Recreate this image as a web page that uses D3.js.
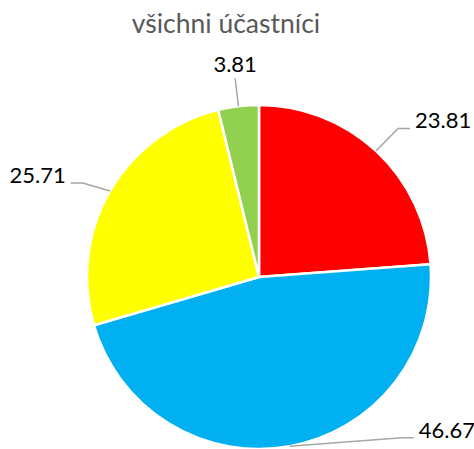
<!DOCTYPE html>
<html>
<head>
<meta charset="utf-8">
<script src="https://cdn.jsdelivr.net/npm/d3@7/dist/d3.min.js"></script>
<style>
  body { margin: 0; background: #fff; }
  text { font-family: Lato, "Open Sans", sans-serif; }
</style>
</head>
<body>
<script>
const title = "všichni účastníci";
const categories = ["červená", "modrá", "žlutá", "zelená"];
const values = [23.81, 46.67, 25.71, 3.81];
const colors = ["#FF0000", "#00B0F0", "#FFFF00", "#92D050"];

const width = 474;
const height = 449;
const cx = 259, cy = 277, r = 172;

// label layout (Excel pushed the bottom label inside the chart area)
const sides = ["right", "right", "left", "top"];
const shift = [[3, -2], [107, -36], [-3, 6], [0, 0]];

const data = categories.map((c, i) => ({ cat: c, value: values[i], color: colors[i], side: sides[i], shift: shift[i] }));

const svg = d3.select("body").append("svg")
    .attr("width", width)
    .attr("height", height);

svg.append("text")
    .attr("x", 226)
    .attr("y", 33)
    .attr("text-anchor", "middle")
    .attr("fill", "#595959")
    .attr("font-size", 26.5)
    .text(title);

const pie = d3.pie().sort(null).value(d => d.value);
const arcs = pie(data);
const arc = d3.arc().innerRadius(0).outerRadius(r);

const g = svg.append("g").attr("transform", `translate(${cx},${cy})`);

g.selectAll(".slice")
    .data(arcs)
    .join("path")
    .attr("class", "slice")
    .attr("d", arc)
    .attr("fill", d => d.data.color)
    .attr("stroke", "#fff")
    .attr("stroke-width", 2.5)
    .attr("stroke-linejoin", "round");

const pt = (a, rad) => [rad * Math.sin(a), -rad * Math.cos(a)];

arcs.forEach(d => {
    const mid = (d.startAngle + d.endAngle) / 2;
    const p0 = pt(mid, r);
    const e = pt(mid, r + 28);
    const p1 = [e[0] + d.data.shift[0], e[1] + d.data.shift[1]];
    let p2, tx, ty, anchor;
    if (d.data.side === "right") {
        p2 = [p1[0] + 12, p1[1]];
        tx = p2[0] + 5; ty = p1[1]; anchor = "start";
    } else if (d.data.side === "left") {
        p2 = [p1[0] - 12, p1[1]];
        tx = p2[0] - 5; ty = p1[1]; anchor = "end";
    } else {
        p2 = p1;
        tx = p1[0]; ty = p1[1] - 6; anchor = "middle";
    }
    g.append("polyline")
        .attr("points", [p0, p1, p2].map(p => p.join(",")).join(" "))
        .attr("fill", "none")
        .attr("stroke", "#A6A6A6")
        .attr("stroke-width", 1.5);
    g.append("text")
        .attr("x", tx)
        .attr("y", ty)
        .attr("text-anchor", anchor)
        .attr("font-size", 22)
        .attr("fill", "#000")
        .text(d.data.value.toFixed(2));
});
</script>
</body>
</html>
